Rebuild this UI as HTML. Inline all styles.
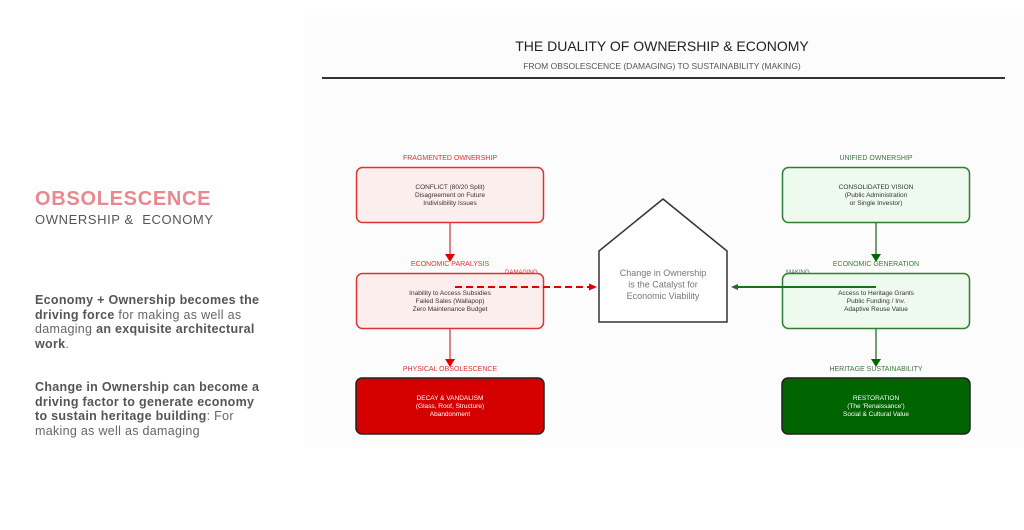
<!DOCTYPE html>
<html><head><meta charset="utf-8"><style>
html,body{margin:0;padding:0;background:#fff;}
body{width:1024px;height:530px;position:relative;overflow:hidden;font-family:"Liberation Sans",sans-serif;}
.panel{position:absolute;left:304px;top:15px;width:720px;height:432px;background:#fcfcfc;}
.h1{position:absolute;left:35px;top:188px;font-size:20px;font-weight:bold;color:#e8898f;letter-spacing:0.7px;}
.h2{position:absolute;left:35px;top:212px;font-size:13px;color:#555;letter-spacing:0.6px;}
.p{position:absolute;left:35px;font-size:12.5px;line-height:14.6px;color:#666;white-space:nowrap;letter-spacing:0.3px;}
.p b{color:#555;}
svg{position:absolute;left:0;top:0;}
</style></head><body>
<div class="panel"></div>
<div class="h1">OBSOLESCENCE</div>
<div class="h2">OWNERSHIP &amp;&nbsp; ECONOMY</div>
<div class="p" style="top:293px;"><b>Economy + Ownership becomes the</b><br><b>driving force</b> for making as well as<br>damaging <b>an exquisite architectural</b><br><b>work</b>.</div>
<div class="p" style="top:380px;"><b>Change in Ownership can become a</b><br><b>driving factor to generate economy</b><br><b>to sustain heritage building</b>: For<br>making as well as damaging</div>
<svg width="1024" height="530" viewBox="0 0 1024 530" font-family="Liberation Sans, sans-serif">
<text x="662" y="51" font-size="14" fill="#222" text-anchor="middle">THE DUALITY OF OWNERSHIP &amp; ECONOMY</text>
<text x="662" y="69" font-size="8.5" fill="#555" text-anchor="middle">FROM OBSOLESCENCE (DAMAGING) TO SUSTAINABILITY (MAKING)</text>
<line x1="322" y1="78" x2="1005" y2="78" stroke="#333" stroke-width="2"/>

<g font-size="6.5" text-anchor="middle">
<text x="450" y="160" fill="#d33" font-size="7">FRAGMENTED OWNERSHIP</text>
<rect x="356.5" y="167.5" width="187" height="55" rx="6" fill="#fdeeee" stroke="#d33" stroke-width="1.5"/>
<text x="450" y="189" fill="#333">CONFLICT (80/20 Split)</text>
<text x="450" y="197" fill="#333">Disagreement on Future</text>
<text x="450" y="205" fill="#333">Indivisibility Issues</text>
<line x1="450" y1="223" x2="450" y2="255" stroke="#c33" stroke-width="1.2"/>
<polygon points="445,254 455,254 450,262" fill="#d00"/>

<text x="450" y="266" fill="#d33" font-size="7">ECONOMIC PARALYSIS</text>
<rect x="356.5" y="273.5" width="187" height="55" rx="6" fill="#fdeeee" stroke="#d33" stroke-width="1.5"/>
<text x="450" y="295" fill="#333">Inability to Access Subsidies</text>
<text x="450" y="303" fill="#333">Failed Sales (Wallapop)</text>
<text x="450" y="311" fill="#333">Zero Maintenance Budget</text>
<line x1="450" y1="329" x2="450" y2="360" stroke="#c33" stroke-width="1.2"/>
<polygon points="445,359 455,359 450,367" fill="#d00"/>

<text x="450" y="371" fill="#d33" font-size="7">PHYSICAL OBSOLESCENCE</text>
<rect x="356" y="378" width="188" height="56" rx="6" fill="#d40000" stroke="#222" stroke-width="1.5"/>
<text x="450" y="400" fill="#fff">DECAY &amp; VANDALISM</text>
<text x="450" y="408" fill="#fff">(Glass, Roof, Structure)</text>
<text x="450" y="416" fill="#fff">Abandonment</text>
</g>

<g font-size="6.5" text-anchor="middle">
<text x="876" y="160" fill="#3a7a3a" font-size="7">UNIFIED OWNERSHIP</text>
<rect x="782.5" y="167.5" width="187" height="55" rx="6" fill="#eefaee" stroke="#2e7d32" stroke-width="1.5"/>
<text x="876" y="189" fill="#333">CONSOLIDATED VISION</text>
<text x="876" y="197" fill="#333">(Public Administration</text>
<text x="876" y="205" fill="#333">or Single Investor)</text>
<line x1="876" y1="223" x2="876" y2="255" stroke="#1b5e20" stroke-width="1.2"/>
<polygon points="871,254 881,254 876,262" fill="#060"/>

<text x="876" y="266" fill="#3a7a3a" font-size="7">ECONOMIC GENERATION</text>
<rect x="782.5" y="273.5" width="187" height="55" rx="6" fill="#eefaee" stroke="#2e7d32" stroke-width="1.5"/>
<text x="876" y="295" fill="#333">Access to Heritage Grants</text>
<text x="876" y="303" fill="#333">Public Funding / Inv.</text>
<text x="876" y="311" fill="#333">Adaptive Reuse Value</text>
<line x1="876" y1="329" x2="876" y2="360" stroke="#1b5e20" stroke-width="1.2"/>
<polygon points="871,359 881,359 876,367" fill="#060"/>

<text x="876" y="371" fill="#3a7a3a" font-size="7">HERITAGE SUSTAINABILITY</text>
<rect x="782" y="378" width="188" height="56" rx="6" fill="#006400" stroke="#222" stroke-width="1.5"/>
<text x="876" y="400" fill="#fff">RESTORATION</text>
<text x="876" y="408" fill="#fff">(The 'Renaissance')</text>
<text x="876" y="416" fill="#fff">Social &amp; Cultural Value</text>
</g>

<polygon points="663,199 727,251 727,322 599,322 599,251" fill="#fff" stroke="#333" stroke-width="1.5"/>
<g font-size="9" fill="#777" text-anchor="middle">
<text x="663" y="276">Change in Ownership</text>
<text x="663" y="287.5">is the Catalyst for</text>
<text x="663" y="299">Economic Viability</text>
</g>

<line x1="455" y1="287" x2="590" y2="287" stroke="#d00" stroke-width="2" stroke-dasharray="7,4"/>
<polygon points="589,283.5 597,287 589,290.5" fill="#d00"/>
<text x="505" y="274" font-size="6" fill="#d33">DAMAGING</text>

<line x1="876" y1="287" x2="735" y2="287" stroke="#1b6e1b" stroke-width="2"/>
<polygon points="738,284 731,287 738,290" fill="#1b6e1b"/>
<text x="786" y="274" font-size="6" fill="#3a7a3a">MAKING</text>
</svg>
</body></html>
